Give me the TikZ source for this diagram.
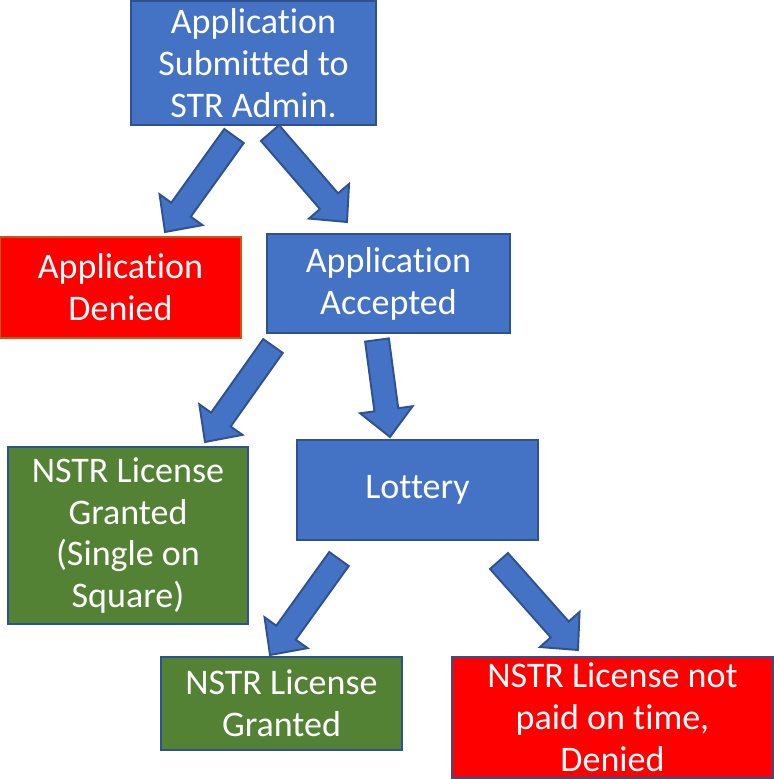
\documentclass[tikz,border=0pt]{standalone}
\usepackage{fontspec}
\setmainfont{Carlito}[Ligatures=CommonOff]
\usetikzlibrary{calc}

\definecolor{boxblue}{HTML}{4472C4}
\definecolor{boxline}{HTML}{2F528F}
\definecolor{boxgreen}{HTML}{548235}
\definecolor{boxred}{HTML}{FF0000}
\definecolor{redline}{HTML}{C55A11}

\tikzset{
  box/.style={draw=boxline, line width=1.1pt, text=white, align=center, inner sep=0pt,
    font=\fontsize{20.5}{23.9}\selectfont},
  bluebox/.style={box, fill=boxblue},
  greenbox/.style={box, fill=boxgreen},
  redbox/.style={box, fill=boxred},
  fatarrow/.style={fill=boxblue, draw=boxline, line width=1.1pt, line join=miter}
}

% block arrow from shaft start #1 to tip #2
\newcommand{\blockarrow}[2]{%
  \coordinate (hb) at ($(#2)!0.55cm!(#1)$);
  \draw[fatarrow] ($(#1)!0.24cm!90:(#2)$) -- ($(hb)!0.24cm!90:(#2)$) -- ($(hb)!0.53cm!90:(#2)$)
    -- (#2) -- ($(hb)!0.53cm!-90:(#2)$) -- ($(hb)!0.24cm!-90:(#2)$) -- ($(#1)!0.24cm!-90:(#2)$) -- cycle;}

\begin{document}
\begin{tikzpicture}[x=0.02cm, y=-0.02cm]

\useasboundingbox (0,0) rectangle (774,779);

% boxes
\node[bluebox, minimum width=4.9cm, minimum height=2.48cm] (submit) at (253.5,63)
  {Application\\Submitted to\\STR Admin.};
\node[redbox, draw=redline, minimum width=4.82cm, minimum height=2.02cm] (denied) at (120.5,287.5)
  {Application\\Denied};
\node[bluebox, minimum width=4.86cm, minimum height=1.98cm] (accepted) at (388.5,283.5)
  {Application\\Accepted};
\node[greenbox, minimum width=4.8cm, minimum height=3.54cm] (single) at (128,535.5)
  {NSTR License\\Granted\\(Single on\\Square)};
\node[bluebox, minimum width=4.82cm, minimum height=2.0cm] (lottery) at (417.5,490)
  {Lottery};
\node[greenbox, minimum width=4.82cm, minimum height=1.86cm] (granted) at (281.5,703.5)
  {NSTR License\\Granted};
\node[redbox, minimum width=6.42cm, minimum height=2.42cm] (notpaid) at (612.5,717.5)
  {NSTR License not\\paid on time,\\Denied};

% arrow ends
\coordinate (s1) at (234,136);  \coordinate (t1) at (165,232);
\coordinate (s2) at (270,133);  \coordinate (t2) at (347,222);
\coordinate (s3) at (273,346);  \coordinate (t3) at (205,442);
\coordinate (s4) at (377,340);  \coordinate (t4) at (390,437);
\coordinate (s5) at (339,559);  \coordinate (t5) at (270,655);
\coordinate (s6) at (499,561);  \coordinate (t6) at (578,650);

\blockarrow{s1}{t1}
\blockarrow{s2}{t2}
\blockarrow{s3}{t3}
\blockarrow{s4}{t4}
\blockarrow{s5}{t5}
\blockarrow{s6}{t6}

\end{tikzpicture}
\end{document}
